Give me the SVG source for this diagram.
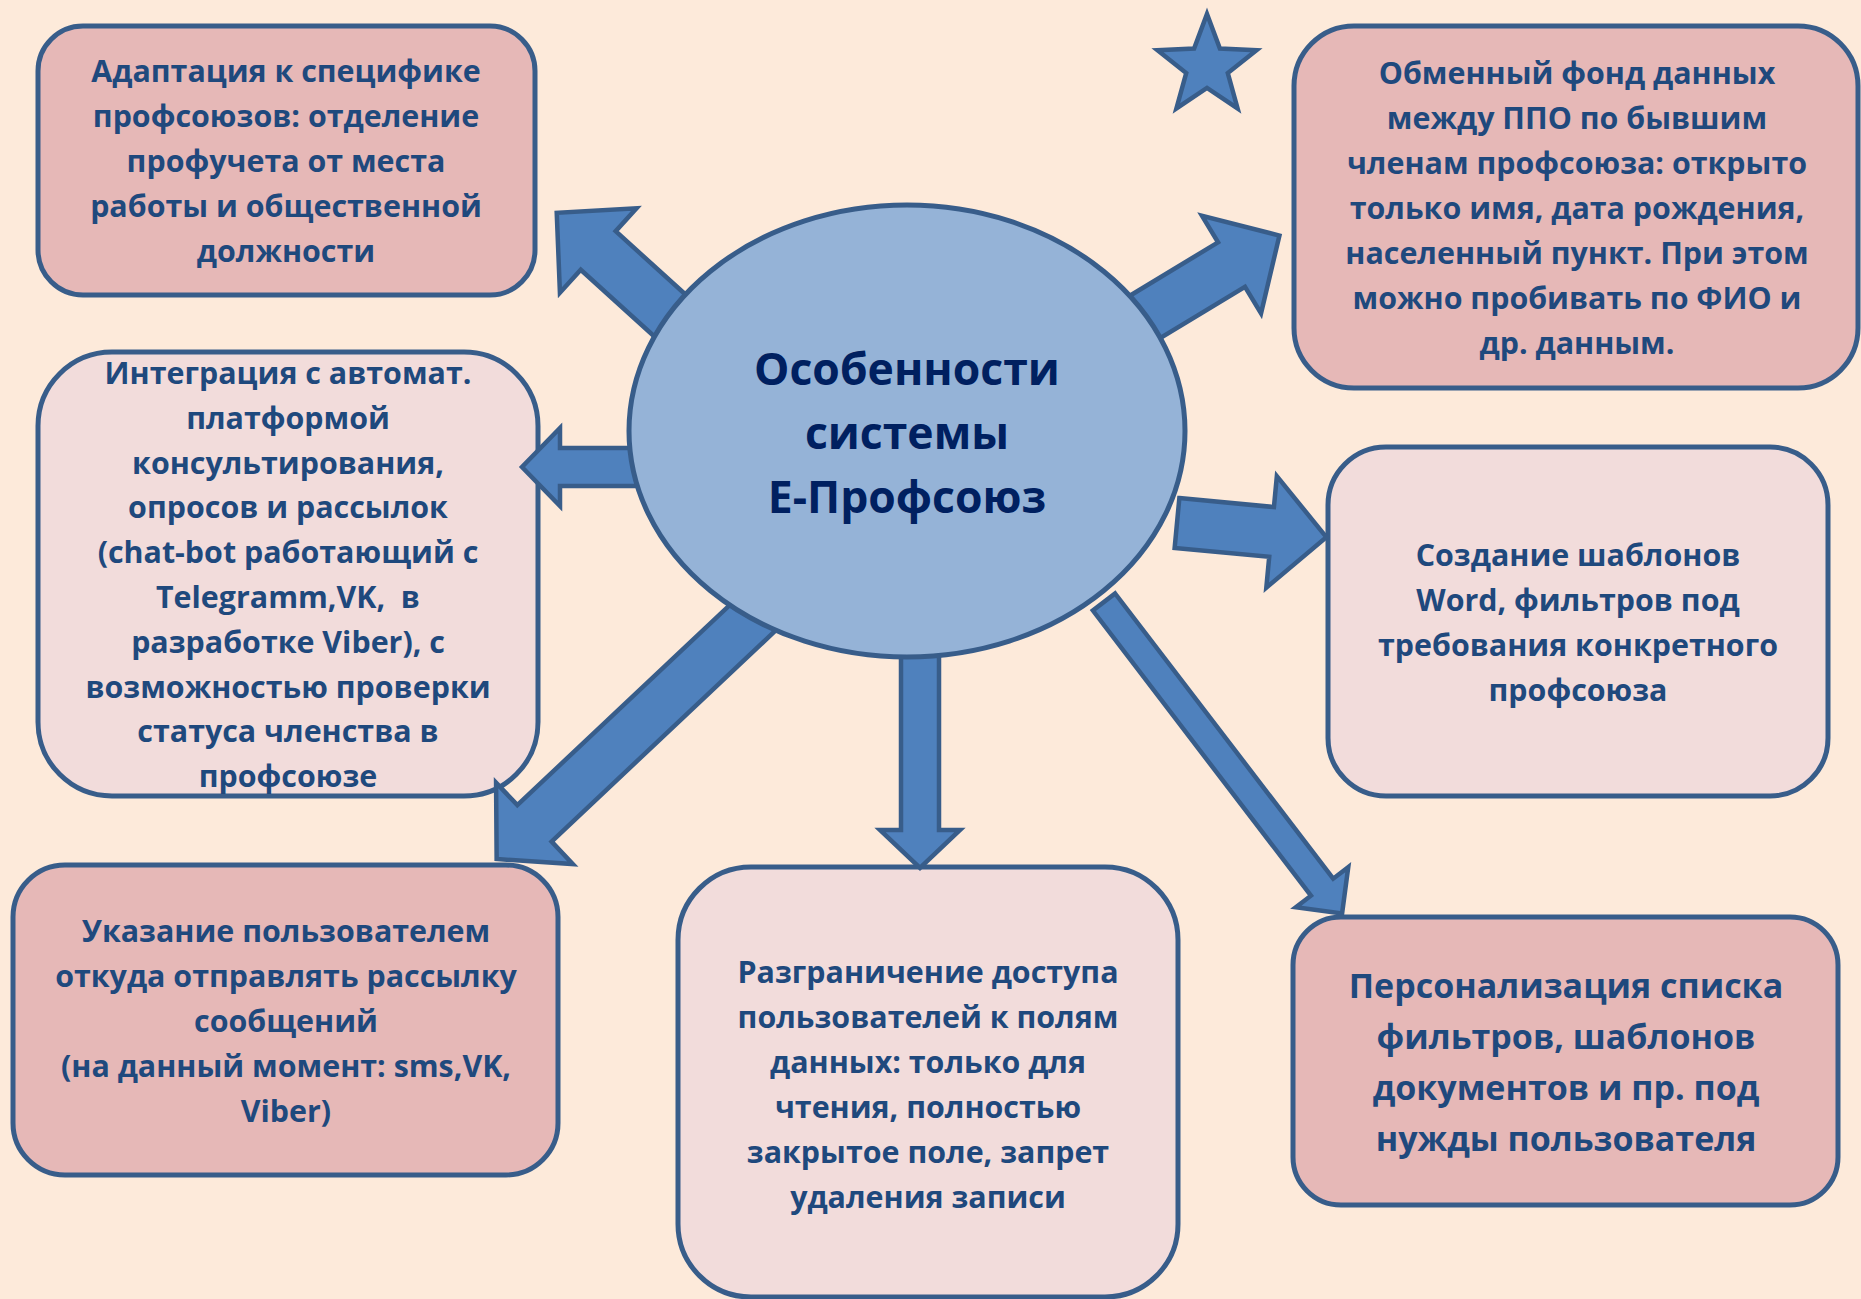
<svg xmlns="http://www.w3.org/2000/svg" width="1861" height="1299" viewBox="0 0 1861 1299">
<defs>
<style>
.bg{fill:#fdeada}
.box{stroke:#385d8a;stroke-width:5}
.dark{fill:#e6b8b7}
.light{fill:#f2dcdb}
.arrow{fill:#4f81bd;stroke:#385d8a;stroke-width:4.5;stroke-linejoin:miter}
.t{font-family:"Open Sans","Noto Sans",sans-serif;font-weight:700;font-size:30.4px;fill:#1f497d;text-anchor:middle}
.t34{font-size:34px}
.title{font-family:"Open Sans","Noto Sans",sans-serif;font-weight:700;font-size:44.5px;fill:#002060;text-anchor:middle}
</style>
</defs>
<rect class="bg" x="0" y="0" width="1861" height="1299"/>
<g id="node-adaptation">
<rect class="box dark" x="38" y="26" width="497" height="269" rx="45"/>
<text class="t" x="286" y="82">Адаптация к специфике</text>
<text class="t" x="286" y="127">профсоюзов: отделение</text>
<text class="t" x="286" y="172">профучета от места</text>
<text class="t" x="286" y="217">работы и общественной</text>
<text class="t" x="286" y="262">должности</text>
</g>
<g id="node-exchange">
<rect class="box dark" x="1294" y="26" width="564" height="362" rx="60"/>
<text class="t" x="1577" y="84">Обменный фонд данных</text>
<text class="t" x="1577" y="129">между ППО по бывшим</text>
<text class="t" x="1577" y="174">членам профсоюза: открыто</text>
<text class="t" x="1577" y="219">только имя, дата рождения,</text>
<text class="t" x="1577" y="264">населенный пункт. При этом</text>
<text class="t" x="1577" y="309">можно пробивать по ФИО и</text>
<text class="t" x="1577" y="354">др. данным.</text>
</g>
<g id="node-integration">
<rect class="box light" x="38" y="352" width="500" height="444" rx="74"/>
<text class="t" x="288" y="384">Интеграция с автомат.</text>
<text class="t" x="288" y="429">платформой</text>
<text class="t" x="288" y="474">консультирования,</text>
<text class="t" x="288" y="518">опросов и рассылок</text>
<text class="t" x="288" y="563">(chat-bot работающий с</text>
<text class="t" x="288" y="608" xml:space="preserve">Telegramm,VK,  в</text>
<text class="t" x="288" y="653">разработке Viber), с</text>
<text class="t" x="288" y="698">возможностью проверки</text>
<text class="t" x="288" y="742">статуса членства в</text>
<text class="t" x="288" y="787">профсоюзе</text>
</g>
<g id="node-templates">
<rect class="box light" x="1328" y="447" width="500" height="349" rx="58"/>
<text class="t" x="1578" y="566">Создание шаблонов</text>
<text class="t" x="1578" y="611">Word, фильтров под</text>
<text class="t" x="1578" y="656">требования конкретного</text>
<text class="t" x="1578" y="701">профсоюза</text>
</g>
<g id="node-mailing">
<rect class="box dark" x="13" y="865" width="545" height="310" rx="52"/>
<text class="t" x="286" y="942">Указание пользователем</text>
<text class="t" x="286" y="987">откуда отправлять рассылку</text>
<text class="t" x="286" y="1032">сообщений</text>
<text class="t" x="286" y="1077">(на данный момент: sms,VK,</text>
<text class="t" x="286" y="1122">Viber)</text>
</g>
<g id="node-access">
<rect class="box light" x="678" y="867" width="500" height="430" rx="73"/>
<text class="t" x="928" y="983">Разграничение доступа</text>
<text class="t" x="928" y="1028">пользователей к полям</text>
<text class="t" x="928" y="1073">данных: только для</text>
<text class="t" x="928" y="1118">чтения, полностью</text>
<text class="t" x="928" y="1163">закрытое поле, запрет</text>
<text class="t" x="928" y="1208">удаления записи</text>
</g>
<g id="node-personal">
<rect class="box dark" x="1293" y="917" width="545" height="288" rx="48"/>
<text class="t t34" x="1566" y="998">Персонализация списка</text>
<text class="t t34" x="1566" y="1049">фильтров, шаблонов</text>
<text class="t t34" x="1566" y="1100">документов и пр. под</text>
<text class="t t34" x="1566" y="1151">нужды пользователя</text>
</g>
<g id="connectors">
<path class="arrow" transform="translate(676,321) rotate(-137.8)" d="M0,-26 L105,-26 L105,-57 L161,0 L105,57 L105,26 L0,26 Z"/>
<path class="arrow" transform="translate(1140,320) rotate(-31.2)" d="M0,-26 L107,-26 L107,-57 L163,0 L107,57 L107,26 L0,26 Z"/>
<path class="arrow" transform="translate(640,467) rotate(180)" d="M0,-19 L80,-19 L80,-39 L118,0 L80,39 L80,19 L0,19 Z"/>
<path class="arrow" transform="translate(1177,523) rotate(5.4)" d="M0,-25 L95,-25 L95,-56 L150,0 L95,56 L95,25 L0,25 Z"/>
<path class="arrow" transform="translate(763,608) rotate(136.7)" d="M0,-25 L314,-25 L314,-56 L366,0 L314,56 L314,25 L0,25 Z"/>
<path class="arrow" transform="translate(920,645) rotate(90)" d="M0,-19 L185,-19 L185,-40 L223,0 L185,40 L185,19 L0,19 Z"/>
<path class="arrow" transform="translate(1104,602) rotate(52.6)" d="M0,-14 L359,-14 L359,-33 L392,0 L359,33 L359,14 L0,14 Z"/>
</g>
<g id="star">
<polygon class="arrow" points="1207,14 1219.9,48.6 1256.5,50.3 1227.8,73.1 1237.6,108.4 1207,88 1176.4,108.4 1186.2,73.1 1157.5,50.3 1194.1,48.6"/>
</g>
<g id="center">
<ellipse cx="907" cy="431" rx="278" ry="226" fill="#95b3d7" stroke="#385d8a" stroke-width="5"/>
<text class="title" x="907" y="385">Особенности</text>
<text class="title" x="907" y="449">системы</text>
<text class="title" x="907" y="513">Е-Профсоюз</text>
</g>
</svg>
